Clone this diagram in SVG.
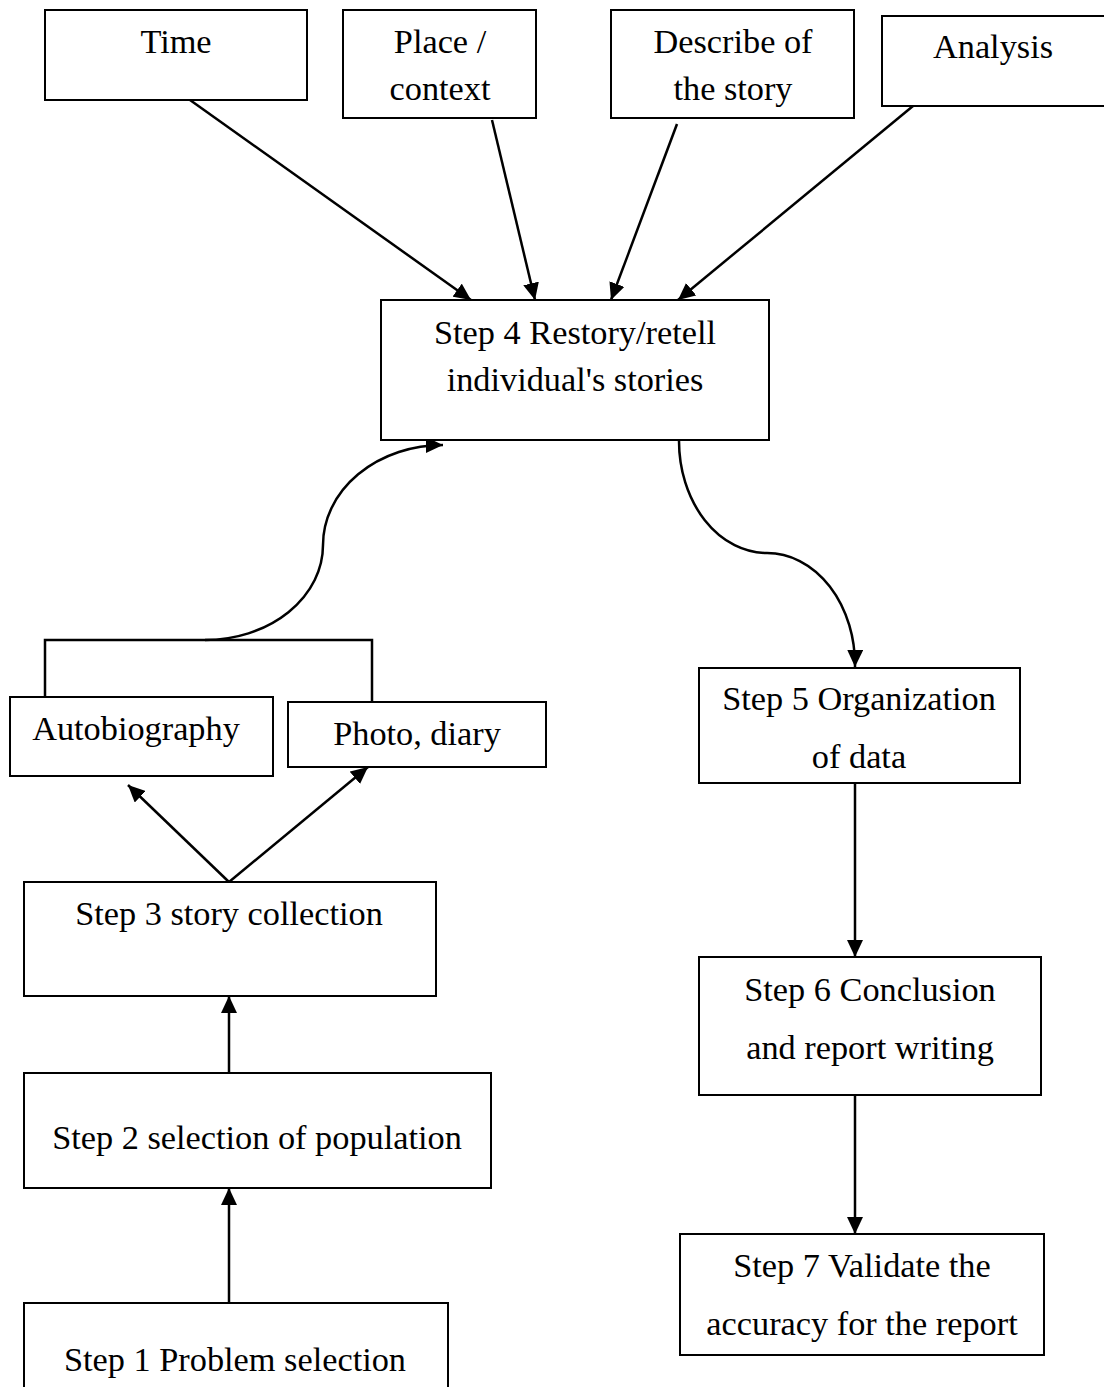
<svg xmlns="http://www.w3.org/2000/svg" width="1104" height="1387" viewBox="0 0 1104 1387">
<style>
.box{fill:#fff;stroke:#000;stroke-width:2}
.t{font-family:"Liberation Serif","Times New Roman",serif;font-size:34.3px;fill:#000;text-anchor:middle}
.c{fill:none;stroke:#000;stroke-width:2.5}
.a{marker-end:url(#ah)}
</style>
<defs>
<marker id="ah" markerUnits="userSpaceOnUse" markerWidth="18" markerHeight="16" refX="17" refY="8" orient="auto">
<path d="M0,0 L17,8 L0,16 Z" fill="#000"/>
</marker>
</defs>
<rect width="1104" height="1387" fill="#fff"/>
<g id="connectors">
<line class="c a" x1="190" y1="100" x2="471" y2="300"/>
<line class="c a" x1="492" y1="120" x2="535" y2="300"/>
<line class="c a" x1="677" y1="124" x2="611" y2="300"/>
<line class="c a" x1="913" y1="106" x2="678" y2="300"/>
<path class="c a" d="M679,441 A88,112 0 0 0 767,553 A88,112 0 0 1 855,667"/>
<path class="c a" d="M205,640 A118,95 0 0 0 323,545 A120,100 0 0 1 443,445"/>
<path class="c" stroke-width="2" d="M45,697 V640 H372 V702"/>
<line class="c a" x1="229" y1="882" x2="128" y2="785"/>
<line class="c a" x1="229" y1="882" x2="368" y2="767"/>
<line class="c a" x1="229" y1="1073" x2="229" y2="996"/>
<line class="c a" x1="229" y1="1303" x2="229" y2="1188"/>
<line class="c a" x1="855" y1="783" x2="855" y2="957"/>
<line class="c a" x1="855" y1="1095" x2="855" y2="1234"/>
</g>
<g id="time"><rect class="box" x="45" y="10" width="262" height="90"/><text class="t" x="176" y="53">Time</text></g>
<g id="place"><rect class="box" x="343" y="10" width="193" height="108"/><text class="t" x="440" y="53">Place /</text><text class="t" x="440" y="100">context</text></g>
<g id="describe"><rect class="box" x="611" y="10" width="243" height="108"/><text class="t" x="733" y="53">Describe of</text><text class="t" x="733" y="100">the story</text></g>
<g id="analysis"><rect class="box" x="882" y="16" width="240" height="90"/><text class="t" x="993" y="58">Analysis</text></g>
<g id="step4"><rect class="box" x="381" y="300" width="388" height="140"/><text class="t" x="575" y="344">Step 4 Restory/retell</text><text class="t" x="575" y="391">individual's stories</text></g>
<g id="autobiography"><rect class="box" x="10" y="697" width="263" height="79"/><text class="t" x="136" y="740">Autobiography</text></g>
<g id="photo"><rect class="box" x="288" y="702" width="258" height="65"/><text class="t" x="417" y="745">Photo, diary</text></g>
<g id="step3"><rect class="box" x="24" y="882" width="412" height="114"/><text class="t" x="229" y="925">Step 3 story collection</text></g>
<g id="step2"><rect class="box" x="24" y="1073" width="467" height="115"/><text class="t" x="257" y="1149">Step 2 selection of population</text></g>
<g id="step1"><rect class="box" x="24" y="1303" width="424" height="100"/><text class="t" x="235" y="1371">Step 1 Problem selection</text></g>
<g id="step5"><rect class="box" x="699" y="668" width="321" height="115"/><text class="t" x="859" y="710">Step 5 Organization</text><text class="t" x="859" y="768">of data</text></g>
<g id="step6"><rect class="box" x="699" y="957" width="342" height="138"/><text class="t" x="870" y="1001">Step 6 Conclusion</text><text class="t" x="870" y="1059">and report writing</text></g>
<g id="step7"><rect class="box" x="680" y="1234" width="364" height="121"/><text class="t" x="862" y="1277">Step 7 Validate the</text><text class="t" x="862" y="1335">accuracy for the report</text></g>
</svg>
